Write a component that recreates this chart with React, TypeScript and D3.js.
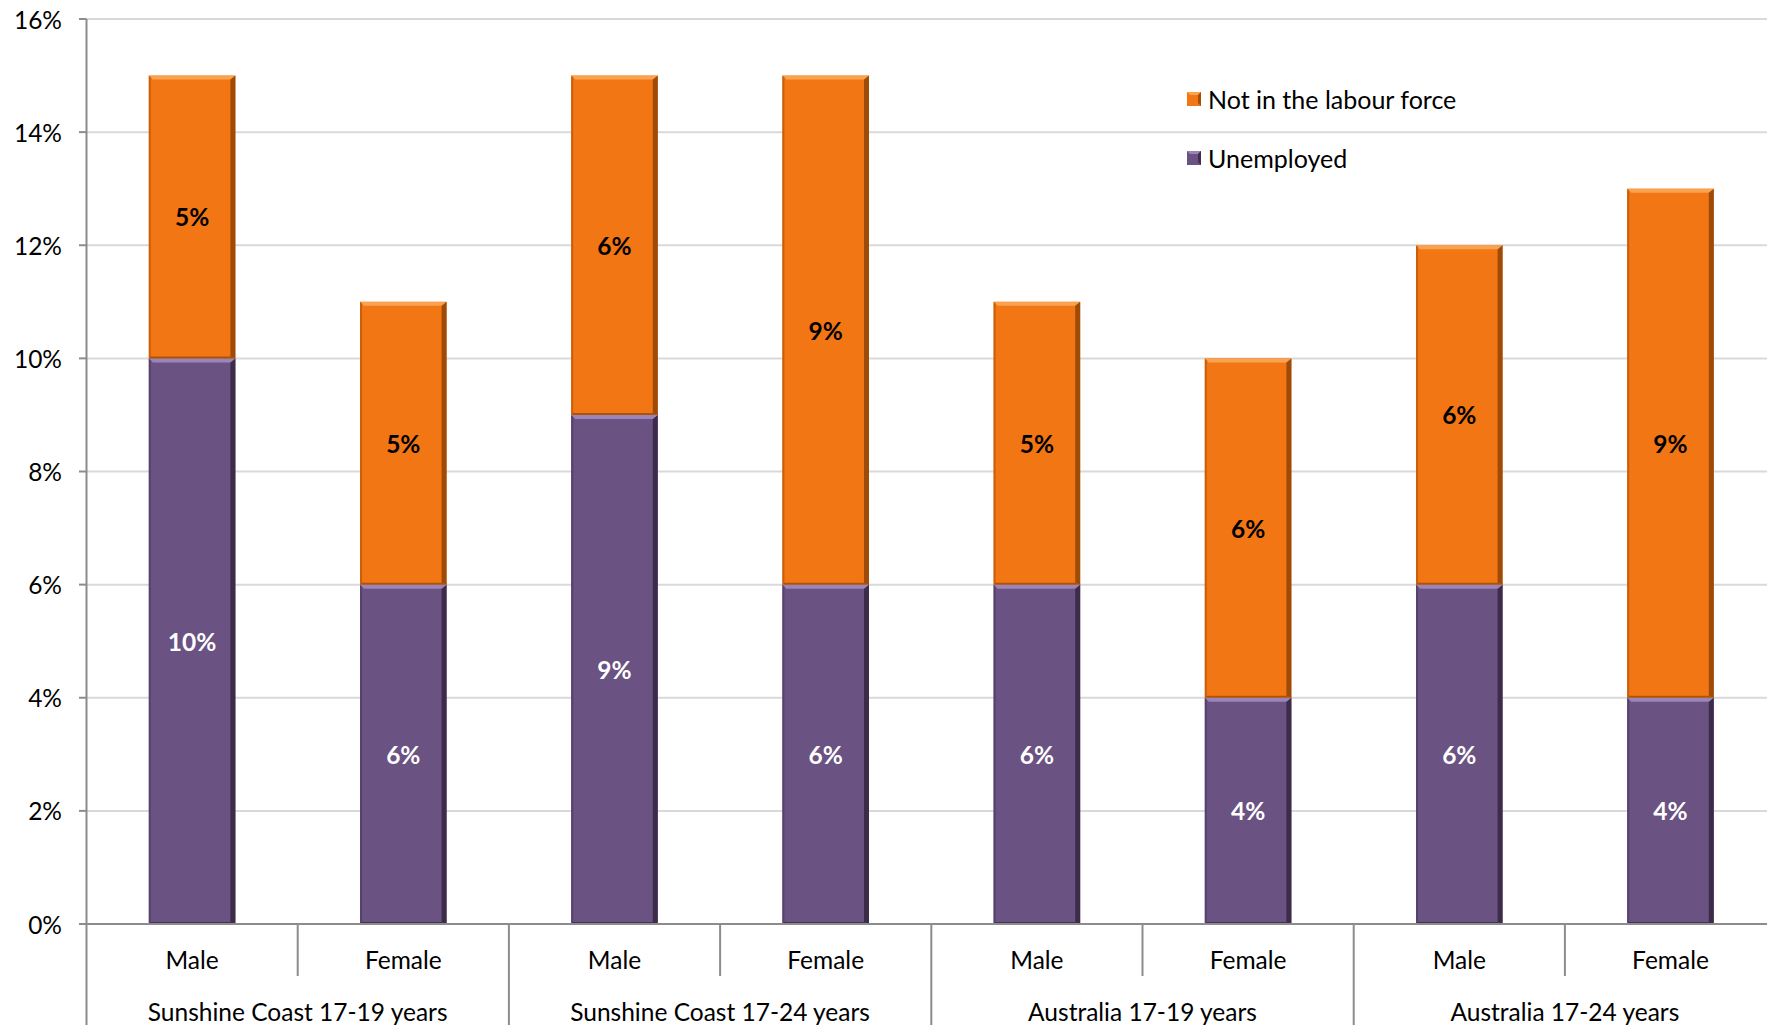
import React from "react";
import * as d3 from "d3";

// Chart data
const sexes = ["Male", "Female", "Male", "Female", "Male", "Female", "Male", "Female"];
const groups = [
  "Sunshine Coast 17-19 years",
  "Sunshine Coast 17-24 years",
  "Australia 17-19 years",
  "Australia 17-24 years",
];
const unemployed = [10, 6, 9, 6, 6, 4, 6, 4];
const notInLabourForce = [5, 5, 6, 9, 5, 6, 6, 9];
const yTicks = [0, 2, 4, 6, 8, 10, 12, 14, 16];

const W = 1767;
const H = 1025;
const left = 86.5;
const step = 211.2;
const top = 19;
const bottom = 924;
const FONT = "Lato, 'Open Sans', sans-serif";
const FS = 24.5;

const ORANGE = { main: "#F27613", light: "#F9A350", dark: "#8F4408", side: "#C95F0C" };
const PURPLE = { main: "#6A5283", light: "#9B84B8", dark: "#34263F", side: "#56436B" };

type Pal = typeof ORANGE;

function BevelBar({ x, y, w, h, pal }: { x: number; y: number; w: number; h: number; pal: Pal }) {
  const b = 4;
  const r = 5;
  return (
    <g>
      <rect x={x} y={y} width={w} height={h} fill={pal.main} />
      {/* top bevel */}
      <polygon
        points={`${x},${y} ${x + w},${y} ${x + w - b},${y + b} ${x + b},${y + b}`}
        fill={pal.light}
      />
      {/* left bevel */}
      <polygon
        points={`${x},${y} ${x + 2},${y + 2} ${x + 2},${y + h - 2} ${x},${y + h}`}
        fill={pal.side}
      />
      {/* right bevel */}
      <polygon
        points={`${x + w},${y} ${x + w},${y + h} ${x + w - r},${y + h - 2} ${x + w - r},${y + b}`}
        fill={pal.dark}
        opacity={0.85}
      />
      {/* bottom bevel */}
      <polygon
        points={`${x},${y + h} ${x + w},${y + h} ${x + w - r},${y + h - 2} ${x + 2},${y + h - 2}`}
        fill={pal.dark}
        opacity={0.7}
      />
    </g>
  );
}

export default function App() {
  const idx = sexes.map((_, i) => i);
  const x = d3
    .scaleBand<number>()
    .domain(idx)
    .range([left, left + step * sexes.length])
    .paddingInner(0.59)
    .paddingOuter(0.59 / 2);
  const y = d3.scaleLinear().domain([0, 16]).range([bottom, top]);
  const bw = x.bandwidth();
  const stepX = x.step();
  const catStart = (i: number) => left + i * stepX;

  return (
    <svg
      width={W}
      height={H}
      style={{ position: "absolute", left: 0, top: 0, background: "#fff" }}
      fontFamily={FONT}
    >
      {/* gridlines */}
      {yTicks
        .filter((t) => t > 0)
        .map((t) => (
          <line key={`g${t}`} x1={left} x2={W} y1={y(t)} y2={y(t)} stroke="#d9d9d9" strokeWidth={2} />
        ))}

      {/* bars */}
      {idx.map((i) => {
        const bx = x(i)!;
        const u = unemployed[i];
        const n = notInLabourForce[i];
        return (
          <g key={`b${i}`}>
            <BevelBar x={bx} y={y(u)} w={bw} h={y(0) - y(u)} pal={PURPLE} />
            <BevelBar x={bx} y={y(u + n)} w={bw} h={y(u) - y(u + n)} pal={ORANGE} />
            <text
              x={bx + bw / 2}
              y={y(u / 2)}
              textAnchor="middle"
              dominantBaseline="central"
              fontWeight="bold"
              fontSize={FS}
              fill="#fff"
            >
              {`${u}%`}
            </text>
            <text
              x={bx + bw / 2}
              y={y(u + n / 2)}
              textAnchor="middle"
              dominantBaseline="central"
              fontWeight="bold"
              fontSize={FS}
              fill="#000"
            >
              {`${n}%`}
            </text>
          </g>
        );
      })}

      {/* y axis */}
      <line x1={left} x2={left} y1={top} y2={H} stroke="#8c8c8c" strokeWidth={2} />
      {yTicks.map((t) => (
        <g key={`t${t}`}>
          <line x1={79} x2={left} y1={y(t)} y2={y(t)} stroke="#8c8c8c" strokeWidth={2} />
          <text
            x={62}
            y={y(t)}
            textAnchor="end"
            dominantBaseline="central"
            fontSize={FS}
            fill="#000"
          >
            {`${t}%`}
          </text>
        </g>
      ))}

      {/* x axis */}
      <line x1={79} x2={W} y1={bottom} y2={bottom} stroke="#8c8c8c" strokeWidth={2} />
      {idx.map((i) =>
        i === 0 ? null : (
          <line
            key={`d${i}`}
            x1={catStart(i)}
            x2={catStart(i)}
            y1={bottom}
            y2={i % 2 === 0 ? H : 976}
            stroke="#8c8c8c"
            strokeWidth={2}
          />
        )
      )}
      {idx.map((i) => (
        <text
          key={`s${i}`}
          x={x(i)! + bw / 2}
          y={959}
          textAnchor="middle"
          dominantBaseline="central"
          fontSize={FS}
          fill="#000"
        >
          {sexes[i]}
        </text>
      ))}
      {groups.map((g, gi) => (
        <text
          key={`grp${gi}`}
          x={catStart(gi * 2) + stepX}
          y={1011}
          textAnchor="middle"
          dominantBaseline="central"
          fontSize={FS}
          fill="#000"
        >
          {g}
        </text>
      ))}

      {/* legend */}
      {[
        { label: "Not in the labour force", pal: ORANGE, cy: 99 },
        { label: "Unemployed", pal: PURPLE, cy: 158 },
      ].map((d) => (
        <g key={d.label}>
          <rect x={1187} y={d.cy - 7} width={14} height={14} fill={d.pal.main} />
          <polygon
            points={`1187,${d.cy - 7} 1201,${d.cy - 7} 1198,${d.cy - 4} 1190,${d.cy - 4}`}
            fill={d.pal.light}
          />
          <polygon
            points={`1201,${d.cy - 7} 1201,${d.cy + 7} 1198,${d.cy + 4} 1198,${d.cy - 4}`}
            fill={d.pal.dark}
            opacity={0.8}
          />
          <text x={1208} y={d.cy} dominantBaseline="central" fontSize={FS + 0.5} fill="#000">
            {d.label}
          </text>
        </g>
      ))}
    </svg>
  );
}
